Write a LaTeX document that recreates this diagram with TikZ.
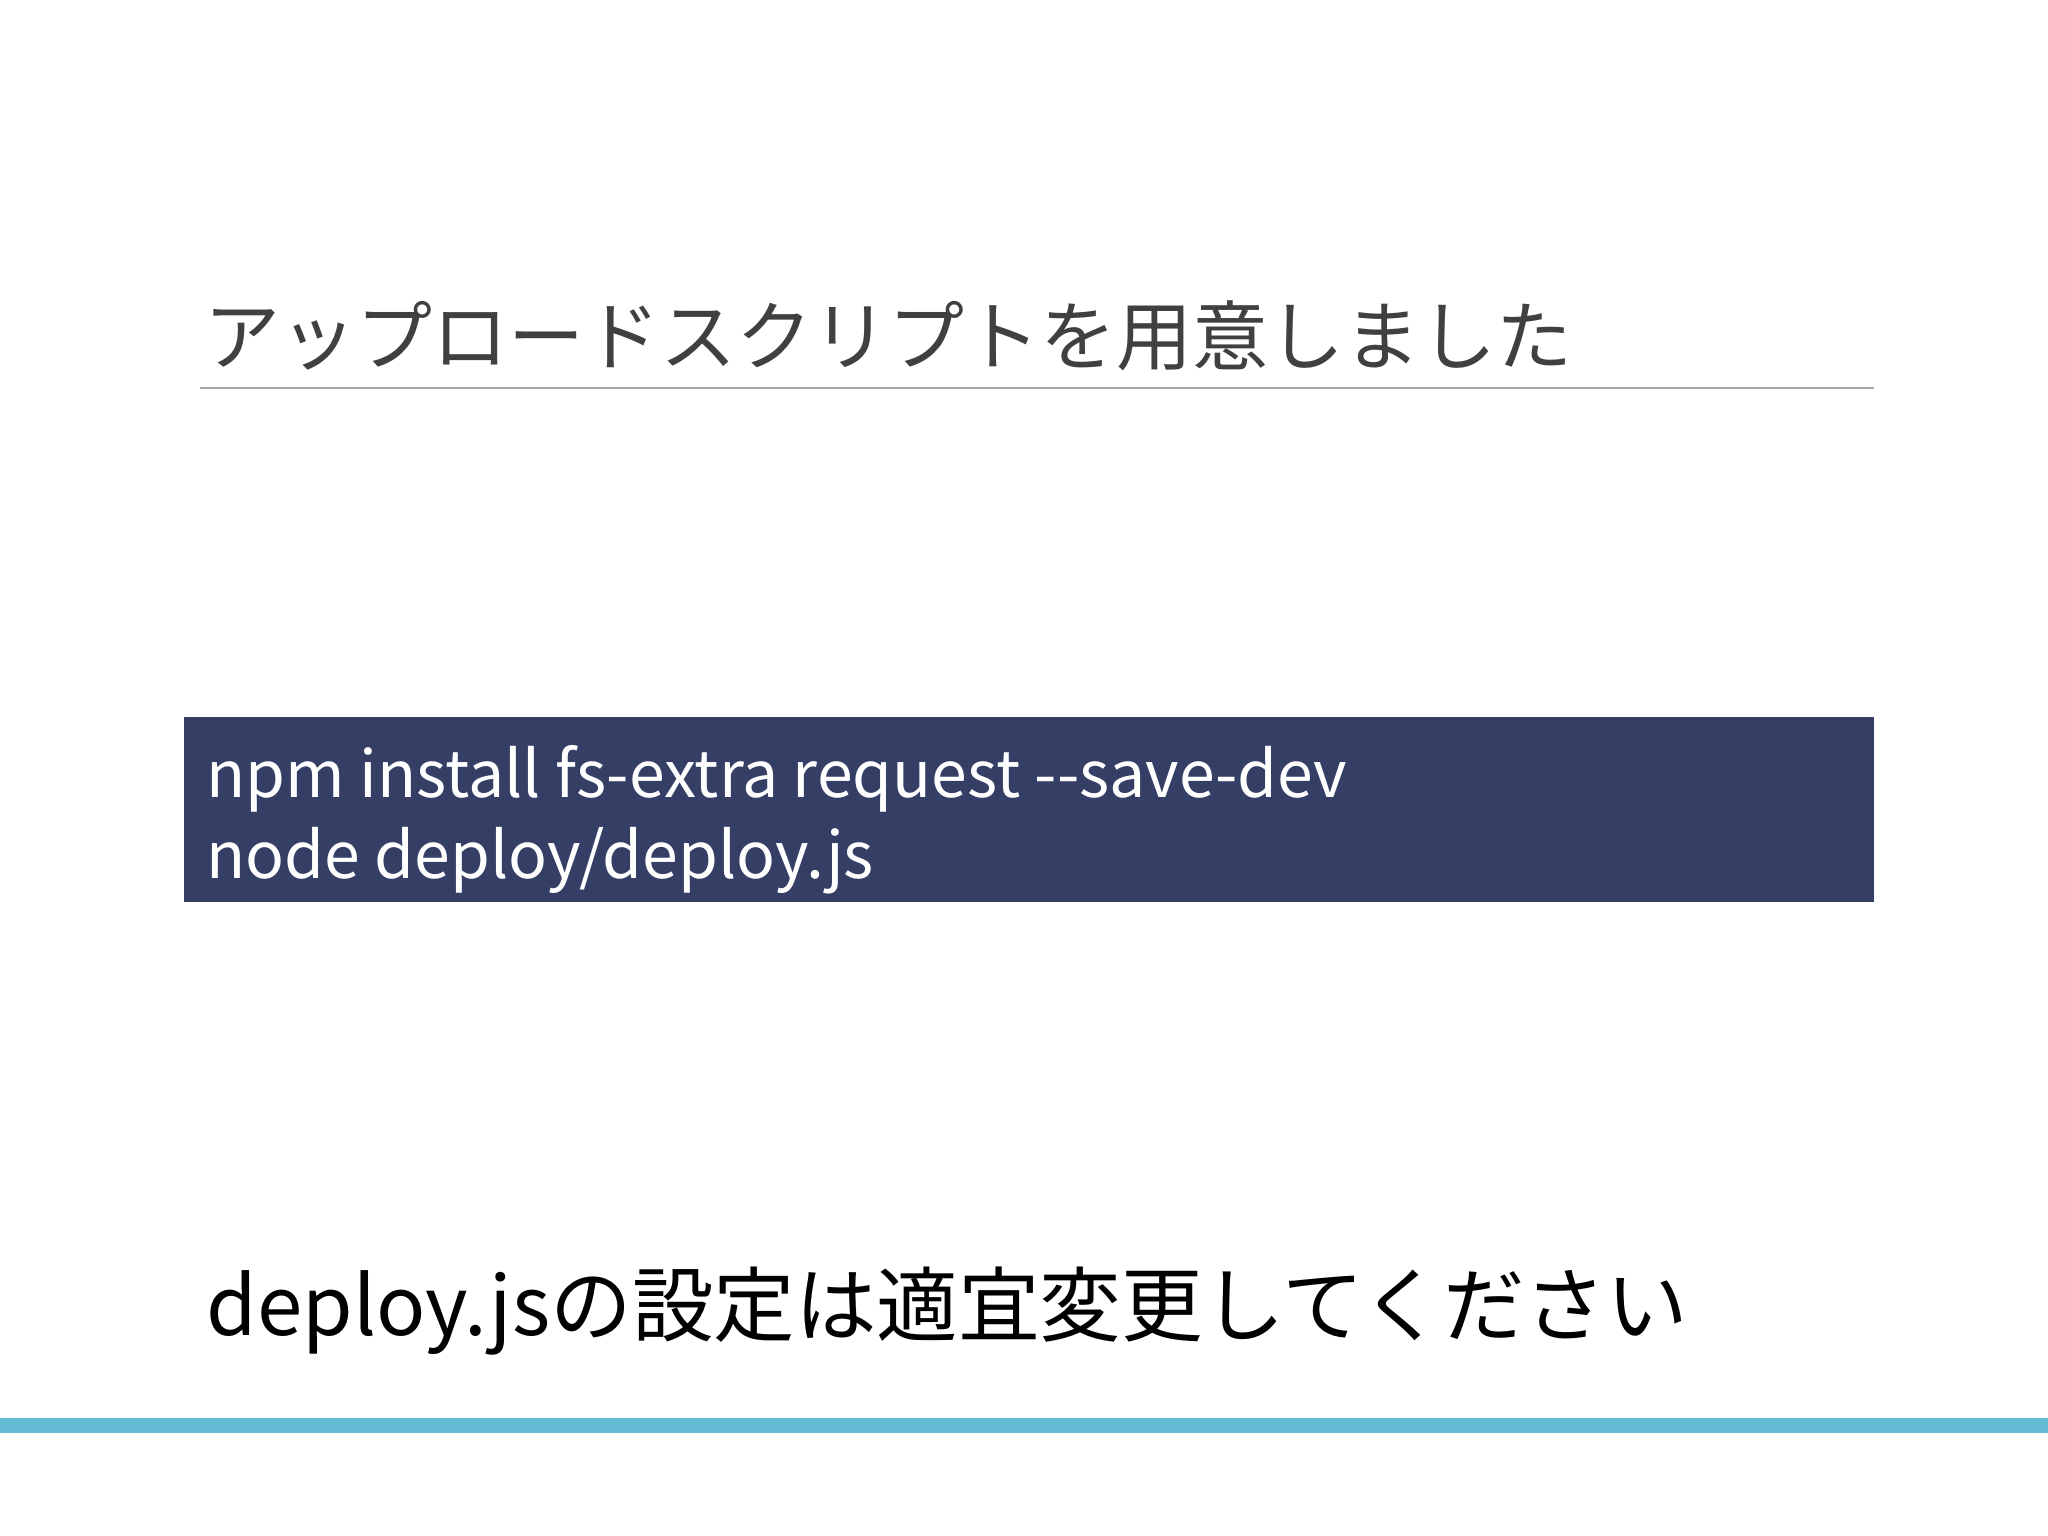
\documentclass[tikz,border=0pt]{standalone}
\usepackage{fontspec}
\setmainfont{Noto Sans CJK JP}
\definecolor{boxblue}{HTML}{353F66}
\definecolor{barblue}{HTML}{63BCD4}
\definecolor{titlegray}{HTML}{404040}
\tikzset{txt/.style={anchor=base west,inner sep=0pt}}
\begin{document}
\begin{tikzpicture}[x=0.01cm,y=-0.01cm]
\useasboundingbox[fill=white] (0,0) rectangle (2048,1536);
\node[txt,text=titlegray,font=\fontsize{21.6pt}{26pt}\selectfont] (title) at (204,364) {アップロードスクリプトを用意しました};
\draw[gray!70,line width=0.8pt] (200,388) -- (1874,388);
\fill[boxblue] (184,717) rectangle (1874,902);
\node[txt,text=white,font=\fontsize{18.3pt}{22pt}\selectfont] (l1) at (206,797) {npm install fs-extra request -{}-save-dev};
\node[txt,text=white,font=\fontsize{18.3pt}{22pt}\selectfont] (l2) at (206,878) {node deploy/deploy.js};
\node[txt,text=black,font=\fontsize{23.2pt}{28pt}\selectfont] (note) at (206,1335) {deploy.jsの設定は適宜変更してください};
\fill[barblue] (0,1418) rectangle (2048,1433);
\end{tikzpicture}
\end{document}
